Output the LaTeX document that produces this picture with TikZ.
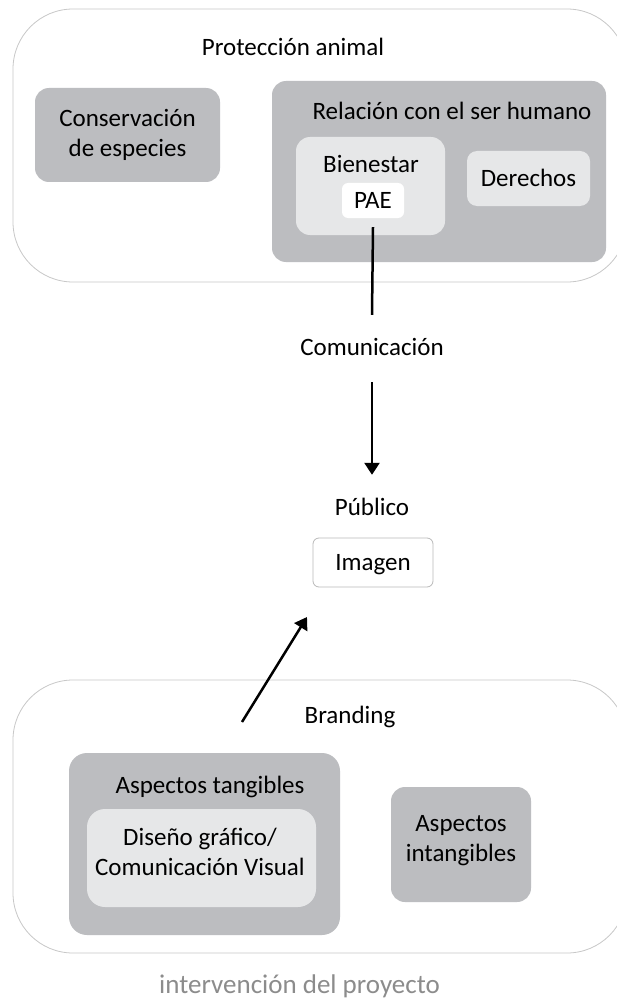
\documentclass[tikz,border=0pt]{standalone}
\usepackage{fontspec}
\setmainfont{Carlito}
\usetikzlibrary{arrows.meta}
\definecolor{boxdark}{RGB}{188,189,192}
\definecolor{boxlight}{RGB}{230,231,232}
\definecolor{frameline}{RGB}{200,200,200}
\definecolor{imgline}{RGB}{185,185,185}
\definecolor{notegrey}{RGB}{140,140,140}
\tikzset{
  every node/.style={font=\fontsize{25}{30}\selectfont, inner sep=0pt},
  frame/.style={draw=frameline, line width=0.8pt, rounded corners=60pt, fill=white},
  darkbox/.style={fill=boxdark, rounded corners=14pt, align=center},
  lightbox/.style={fill=boxlight, rounded corners=14pt, align=center},
  whitebox/.style={fill=white, rounded corners=6pt, text height=16pt, text depth=0pt},
  label/.style={text height=16pt, text depth=0pt},
  conn/.style={line width=2.5pt},
  arr/.style={line width=2.5pt, -{Triangle[width=15pt,length=12pt]}}
}
\begin{document}
\begin{tikzpicture}[x=1pt,y=-1pt]
\clip (0,0) rectangle (617,1003);
\fill[white] (0,0) rectangle (617,1003);

% upper frame: animal protection
\node[frame, minimum width=614pt, minimum height=273pt] (top) at (320,145.5) {};
\node[label] (toplbl) at (293,48) {Protección animal};
\node[darkbox, minimum width=185pt, minimum height=94pt] (cons) at (127.5,135) {Conservación\\de especies};
\node[darkbox, minimum width=334pt, minimum height=181pt] (rel) at (439,171.5) {};
\node[label] (rellbl) at (452,112) {Relación con el ser humano};
\node[lightbox, minimum width=149pt, minimum height=98pt] (bien) at (370.5,186) {};
\node[label] (bienlbl) at (371,164) {Bienestar};
\node[whitebox, minimum width=62pt, minimum height=35pt] (pae) at (373,200.5) {PAE};
\node[lightbox, rounded corners=10pt, text height=16pt, text depth=0pt, minimum width=123pt, minimum height=55pt] (der) at (528.5,178.5) {Derechos};

% middle chain
\node[label] (com) at (372,347) {Comunicación};
\node[label] (pub) at (372,507) {Público};
\node[whitebox, draw=imgline, line width=0.8pt, minimum width=120pt, minimum height=49pt] (img) at (373,562.5) {Imagen};

\draw[conn] ([yshift=-9pt]pae.south) -- ([yshift=24pt]com.north);
\draw[arr] ([yshift=-27pt]com.south) -- ([yshift=24pt]pub.north);

% lower frame: branding
\node[frame, minimum width=614pt, minimum height=273pt] (bot) at (320,816.5) {};
\node[label] (brand) at (350,715) {Branding};
\node[darkbox, rounded corners=18pt, minimum width=271pt, minimum height=182pt] (tang) at (204.5,844) {};
\node[label] (tanglbl) at (210,785) {Aspectos tangibles};
\node[lightbox, rounded corners=18pt, minimum width=229pt, minimum height=98pt] (dis) at (201.5,858) {};
\node[align=center] (distxt) at (200,852) {Diseño gráfico/\\Comunicación Visual};
\node[darkbox, minimum width=140pt, minimum height=115pt] (intang) at (461,844.5) {};
\node[align=center] (intangtxt) at (461,841) {Aspectos\\intangibles};

\coordinate (dstart) at (242,722);
\coordinate (dend) at (307,617);
\draw[arr] (dstart) -- (dend);

\node[text height=17pt, text depth=0pt, font=\fontsize{27}{32}\selectfont, text=notegrey] (note) at (299.5,984.5) {intervención del proyecto};
\end{tikzpicture}
\end{document}
